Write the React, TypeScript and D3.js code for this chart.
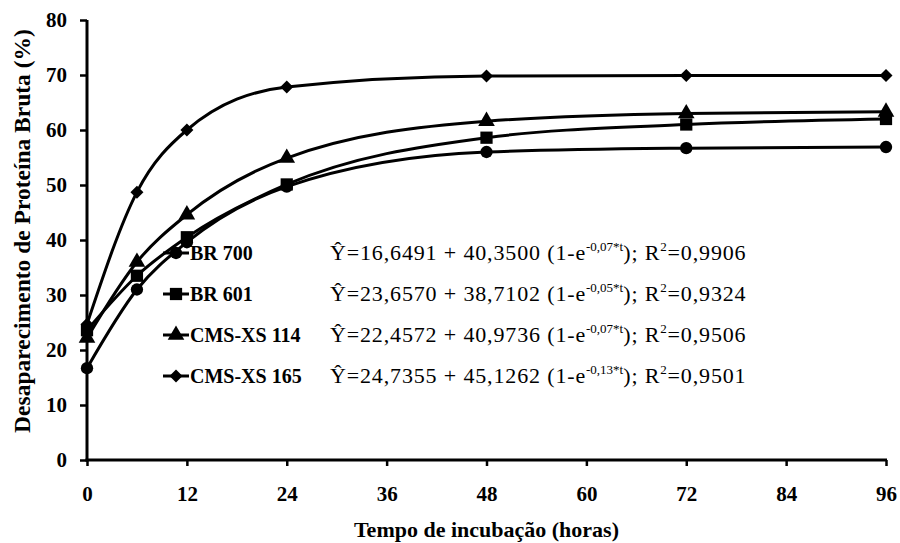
import * as d3 from "d3";
import { useEffect, useRef } from "react";

// hours of incubation
const times = [0, 6, 12, 24, 48, 72, 96];
const seriesNames = ["BR 700", "BR 601", "CMS-XS 114", "CMS-XS 165"];
const br700 = [16.7, 31.0, 39.6, 49.7, 56.0, 56.7, 56.9];
const br601 = [23.6, 33.5, 40.5, 50.1, 58.6, 61.0, 62.0];
const cms114 = [22.2, 36.0, 44.6, 54.9, 61.6, 63.0, 63.3];
const cms165 = [24.7, 48.7, 60.0, 67.8, 69.8, 69.9, 69.9];
const symbols = ["circle", "square", "triangle", "diamond"];
// fitted equations text pieces
const eqA = ["16,6491", "23,6570", "22,4572", "24,7355"];
const eqB = ["40,3500", "38,7102", "40,9736", "45,1262"];
const eqK = ["-0,07*t", "-0,05*t", "-0,07*t", "-0,13*t"];
const eqR2 = ["0,9906", "0,9324", "0,9506", "0,9501"];
const xTicks = [0, 12, 24, 36, 48, 60, 72, 84, 96];
const yTicks = [0, 10, 20, 30, 40, 50, 60, 70, 80];

const App = () => {
  const ref = useRef(null);

  useEffect(() => {
    const svg = d3.select(ref.current);
    svg.selectAll("*").remove();

    const margin = { top: 20, right: 14, bottom: 83, left: 87 };
    const width = 900 - margin.left - margin.right;
    const height = 543 - margin.top - margin.bottom;
    const font = "'Liberation Serif', 'Times New Roman', serif";

    const g = svg.append("g").attr("transform", `translate(${margin.left},${margin.top})`);

    const x = d3.scaleLinear().domain([0, 96]).range([0, width]);
    const y = d3.scaleLinear().domain([0, 80]).range([height, 0]);

    // axes
    const xAxis = g
      .append("g")
      .attr("transform", `translate(0,${height})`)
      .call(d3.axisBottom(x).tickValues(xTicks).tickSize(6).tickPadding(20).tickSizeOuter(0));
    const yAxis = g
      .append("g")
      .call(d3.axisLeft(y).tickValues(yTicks).tickSize(7).tickPadding(13).tickSizeOuter(0));
    [xAxis, yAxis].forEach((a) => {
      a.select(".domain").attr("stroke", "#000").attr("stroke-width", 3);
      a.selectAll(".tick line").attr("stroke", "#000").attr("stroke-width", 2.5);
      a.selectAll(".tick text")
        .attr("font-family", font)
        .attr("font-weight", "bold")
        .attr("font-size", 21)
        .attr("fill", "#000");
    });
    // extend domains so they meet at the corner
    xAxis.select(".domain").attr("d", `M-1.5,0H${width + 1}`);
    yAxis.select(".domain").attr("d", `M0,${height + 1.5}V0`);

    const allSeries = [br700, br601, cms114, cms165];
    const line = d3
      .line()
      .x((d, i) => x(times[i]))
      .y((d) => y(d))
      .curve(d3.curveMonotoneX);

    const markerPath = (s) =>
      s === "circle"
        ? d3.symbol().type(d3.symbolCircle).size(120)()
        : s === "square"
        ? d3.symbol().type(d3.symbolSquare).size(150)()
        : s === "triangle"
        ? d3.symbol().type(d3.symbolTriangle).size(120)()
        : d3.symbol().type(d3.symbolSquare).size(85)();
    const markerRot = (s) => (s === "diamond" ? " rotate(45)" : "");

    allSeries.forEach((vals, si) => {
      g.append("path")
        .datum(vals)
        .attr("d", line)
        .attr("fill", "none")
        .attr("stroke", "#000")
        .attr("stroke-width", 3);
      g.append("g")
        .selectAll("path")
        .data(vals)
        .join("path")
        .attr("transform", (d, i) => `translate(${x(times[i])},${y(d)})${markerRot(symbols[si])}`)
        .attr("d", markerPath(symbols[si]))
        .attr("fill", "#000");
    });

    // legend + equations
    const legendY = [253, 294, 335, 376];
    seriesNames.forEach((name, i) => {
      const ly = legendY[i];
      svg.append("line")
        .attr("x1", 163).attr("x2", 189).attr("y1", ly).attr("y2", ly)
        .attr("stroke", "#000").attr("stroke-width", 3);
      svg.append("path")
        .attr("transform", `translate(176,${ly})${markerRot(symbols[i])}`)
        .attr("d", markerPath(symbols[i]))
        .attr("fill", "#000");
      svg.append("text")
        .attr("x", 190).attr("y", ly + 7)
        .attr("font-family", font).attr("font-weight", "bold").attr("font-size", 20)
        .text(name);
      const t = svg.append("text")
        .attr("x", 330).attr("y", ly + 7)
        .attr("font-family", font).attr("font-size", 22).attr("letter-spacing", 0.85);
      t.append("tspan").text(`Ŷ=${eqA[i]} + ${eqB[i]} (1-e`);
      t.append("tspan").attr("dy", -9).attr("font-size", 13).attr("letter-spacing", 0).text(eqK[i]);
      t.append("tspan").attr("dy", 9).text("); R");
      t.append("tspan").attr("dy", -9).attr("font-size", 13).text("2");
      t.append("tspan").attr("dy", 9).text(`=${eqR2[i]}`);
    });

    // axis titles
    svg.append("text")
      .attr("x", margin.left + width / 2)
      .attr("y", 537)
      .attr("text-anchor", "middle")
      .attr("font-family", font).attr("font-weight", "bold").attr("font-size", 22)
      .text("Tempo de incubação (horas)");
    svg.append("text")
      .attr("transform", `translate(30,231) rotate(-90)`)
      .attr("text-anchor", "middle")
      .attr("font-family", font).attr("font-weight", "bold").attr("font-size", 23.5)
      .text("Desaparecimento de Proteína Bruta (%)");
  }, []);

  return <svg width={900} height={543} ref={ref} style={{ display: "block", position: "absolute", left: 0, top: 0 }} />;
};

export default App;
